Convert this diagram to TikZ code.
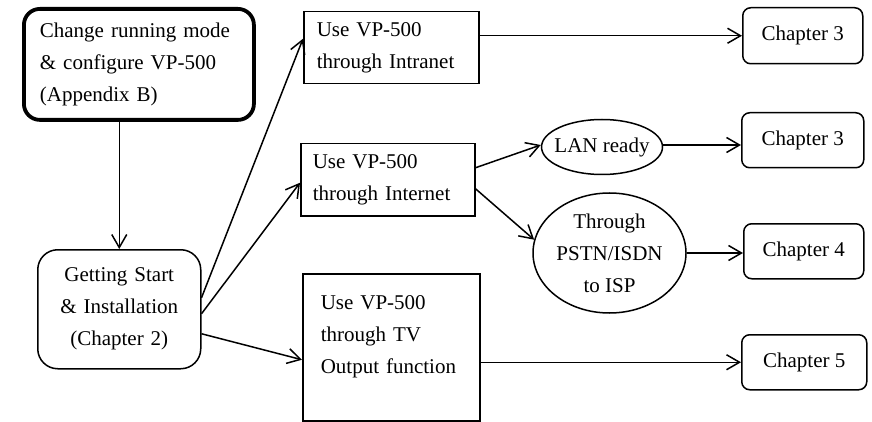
\documentclass[tikz,border=0pt]{standalone}
\usepackage{fontspec}
\setmainfont{Liberation Serif}
\usetikzlibrary{shapes.geometric,arrows.meta,calc}
\begin{document}
\begin{tikzpicture}[x=1pt,y=-1pt,
  every node/.style={font=\fontsize{21}{32}\selectfont},
  conn/.style={line width=1.5pt,-{Straight Barb[length=13pt,width=15pt,line width=1.5pt]}},
  sqbox/.style={draw,line width=1.5pt,anchor=north west,align=left,inner ysep=0pt},
  chapbox/.style={draw,line width=1.5pt,anchor=north west,rounded corners=8pt,inner sep=0pt},
  oval/.style={draw,line width=1.5pt,ellipse,inner sep=0pt,align=center}
]
\useasboundingbox (0,0) rectangle (872,422);

\node[sqbox,line width=3.8pt,rounded corners=16pt,minimum width=230pt,minimum height=111pt,
      inner xsep=16pt,text width=198pt] (top) at (22,7)
  {Change running mode\\ \& configure VP-500\\ (Appendix B)};

\node[sqbox,rounded corners=20pt,align=center,minimum width=163pt,minimum height=119pt,
      inner xsep=8pt,text width=147pt] (gs) at (37,249)
  {Getting Start\\ \& Installation\\ (Chapter 2)};

\node[sqbox,minimum width=175pt,minimum height=72pt,inner xsep=13pt,text width=149pt] (intranet) at (303,11)
  {Use VP-500\\ through Intranet};

\node[sqbox,minimum width=174pt,minimum height=72pt,inner xsep=12pt,text width=150pt] (internet) at (300,143)
  {Use VP-500\\ through Internet};

\node[sqbox,minimum width=177pt,minimum height=147pt,inner xsep=18pt,text width=141pt] (tv) at (302,273)
  {Use VP-500\\ through TV\\ Output function\\[-6pt] \mbox{}};

\node[oval,minimum width=121pt,minimum height=55pt] (lan) at (602,147) {\makebox[0pt]{LAN ready}};
\node[oval,minimum width=153pt,minimum height=120pt] (pstn) at (609.5,253) {Through\\ PSTN/ISDN\\ to ISP};

\node[chapbox,minimum width=120pt,minimum height=56pt] (ch3a) at (742,7) {Chapter 3};
\node[chapbox,minimum width=122pt,minimum height=55pt] (ch3b) at (741,112) {Chapter 3};
\node[chapbox,minimum width=120pt,minimum height=55pt] (ch4) at (743,223) {Chapter 4};
\node[chapbox,minimum width=125pt,minimum height=55pt] (ch5) at (741,334) {Chapter 5};

\draw[conn] (gs.north |- top.south) -- (gs.north);
\draw[conn] ([yshift=11.5pt]gs.east) -- ([yshift=9pt]intranet.west);
\draw[conn] ([yshift=-4.5pt]gs.east) -- ([yshift=-3pt]internet.west);
\draw[conn] ([yshift=-24.5pt]gs.east) -- ([yshift=-12.5pt]tv.west);
\draw[conn] (ch3a.west -| intranet.east) -- (ch3a.west);
\draw[conn] ([yshift=12pt]internet.east) -- ([yshift=2pt]lan.west);
\draw[conn] ([yshift=-9pt]internet.east) -- (pstn.170);
\draw[conn] ([yshift=2pt]lan.east) -- ([yshift=2pt]lan.east -| ch3b.west);
\draw[conn] (pstn.east) -- (pstn.east -| ch4.west);
\draw[conn] (ch5.west -| tv.east) -- (ch5.west);
\end{tikzpicture}
\end{document}
